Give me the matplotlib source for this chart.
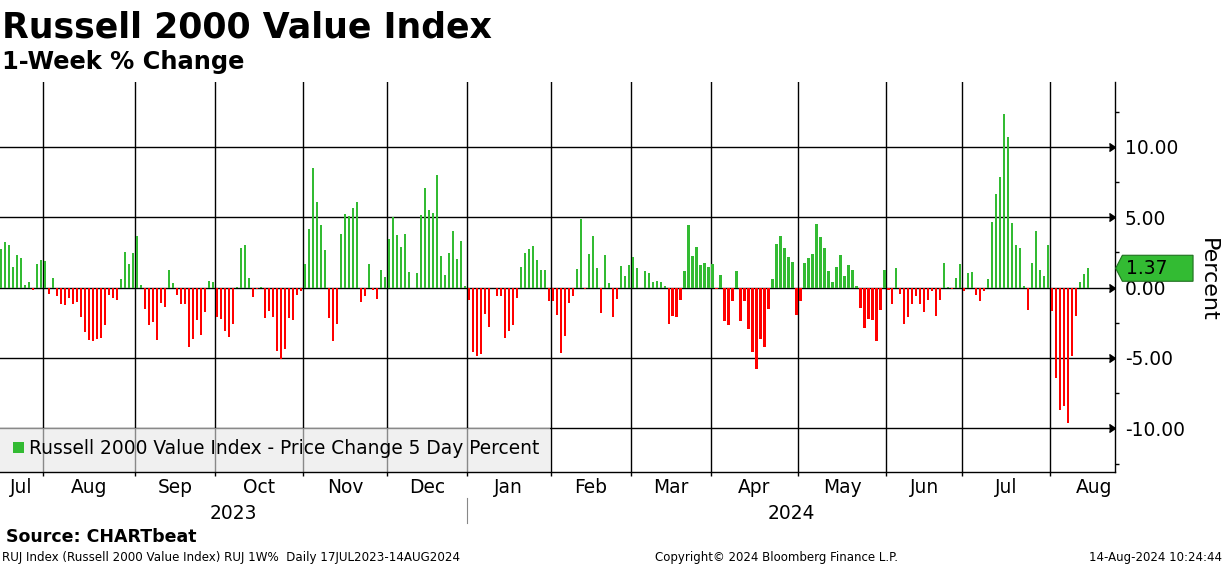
import pandas as pd
import matplotlib
matplotlib.use("Agg")
import matplotlib.pyplot as plt
from matplotlib import transforms
from matplotlib.patches import Rectangle, Polygon
from matplotlib.ticker import MultipleLocator, FormatStrFormatter

# trading calendar 17 Jul 2023 - 14 Aug 2024 (US market holidays removed)
market_holidays = ["2023-09-04", "2023-11-23", "2023-12-25", "2024-01-01", "2024-01-15",
                   "2024-02-19", "2024-03-29", "2024-05-27", "2024-06-19", "2024-07-04"]
dates = pd.bdate_range("2023-07-17", "2024-08-14", freq="C", holidays=market_holidays)

# 5 day price change, percent
pct_change = [
    2.72, 3.22, 3.00, 1.45, 2.30, 2.08, 0.17, 0.38, -0.17, 1.66, 1.94,
    1.87, -0.45, 0.66, -0.59, -1.16, -1.23, -0.73, -1.16, -1.02, -2.09, -3.15, -3.72,
    -3.79, -3.65, -3.58, -2.65, -0.52, -0.73, -0.88, 0.59, 2.51, 1.66, 2.44,
    3.65, 0.17, -1.52, -2.65, -2.44, -3.72, -1.09, -1.37, 1.23, 0.31, -0.52, -1.16,
    -1.16, -4.22, -3.65, -2.30, -3.36, -1.73, 0.45, 0.38,
    -2.09, -2.23, -3.08, -3.50, -2.58, 0.05, 2.80, 3.00, 0.66, -0.66, -0.07, 0.05,
    -2.16, -1.66, -2.09, -4.50, -5.07, -4.36, -2.16, -2.30, -0.52, -0.24,
    1.66, 4.15, 8.48, 6.07, 4.43, 2.65, -2.16, -3.79, -2.58, 3.79, 5.21, 5.07,
    5.64, 6.07, -1.02, -0.59, 1.66, -0.17, -0.80, 1.23, 0.73,
    3.44, 4.98, 3.72, 2.87, 3.79, 1.09, -0.05, 1.02, 5.14, 7.06, 5.50, 5.28,
    7.99, 2.23, 0.88, 2.44, 4.00, 2.01, 3.29, 0.14,
    -0.88, -4.57, -4.86, -4.72, -1.87, -2.80, -0.05, -0.59, -0.59, -3.58, -3.08,
    -2.65, -0.73, 1.45, 2.44, 2.72, 2.94, 1.94, 1.23, 1.23, -0.95,
    -0.95, -1.94, -4.64, -3.44, -1.09, -0.59, 1.30, 4.86, -0.10, 2.37, 3.65, 1.37,
    -1.80, 2.30, 0.31, -2.09, -0.80, 1.52, 0.80, 1.59,
    2.16, 1.37, -0.03, 1.16, 1.02, 0.38, 0.45, 0.38, 0.10, -2.58, -2.01, -2.09,
    -0.88, 1.16, 4.43, 2.23, 2.87, 1.59, 1.73, 1.45,
    1.66, -0.10, 0.88, -2.37, -2.65, -0.95, 1.16, -2.37, -0.95, -2.94, -4.57, -5.78,
    -3.65, -4.22, -1.52, 0.59, 3.08, 3.65, 2.80, 2.16, 1.80, -1.94,
    -0.95, 1.73, 2.08, 2.37, 4.50, 3.58, 2.80, 1.16, 0.38, 1.45, 2.30, 0.80,
    1.59, 1.23, 0.10, -1.45, -2.87, -2.23, -2.30, -3.79, -1.59, 1.23,
    -0.17, -1.16, 1.37, -0.45, -2.58, -2.09, -1.16, -0.59, -1.16, -1.73, -0.88, -0.24,
    -2.01, -0.88, 1.73, 0.03, -0.10, 0.66, 1.66,
    -0.24, 1.02, 1.09, -0.52, -0.95, -0.24, 0.59, 4.64, 6.64, 7.84, 12.32, 10.69,
    4.57, 3.00, 2.80, 0.10, -1.59, 1.73, 4.00, 1.23, 0.80, 3.00,
    -1.66, -6.42, -8.70, -8.41, -9.62, -4.86, -2.01, 0.38, 0.95, 1.37,
]

month_names = ["Jul", "Aug", "Sep", "Oct", "Nov", "Dec", "Jan",
               "Feb", "Mar", "Apr", "May", "Jun", "Jul", "Aug"]
year_labels = ["2023", "2024"]
series_label = "Russell 2000 Value Index - Price Change 5 Day Percent"

GREEN = "#33bb33"
RED = "#ff0000"
FS = 13.4
W, H = 1224, 566

plt.rcParams["font.family"] = "DejaVu Sans"
plt.rcParams["axes.unicode_minus"] = False


def fy(y_px):
    return 1 - y_px / H


def fx(x_px):
    return x_px / W


x = list(range(len(dates)))
colors = [GREEN if v >= 0 else RED for v in pct_change]

# first trading day of each month
month_start = [i for i in range(1, len(dates)) if dates[i].month != dates[i - 1].month]
boundaries = [i - 0.5 for i in month_start]

fig = plt.figure(figsize=(W / 100, H / 100), dpi=100)
ax = fig.add_axes([0, fy(472), 1115 / W, (472 - 82) / H])

xmin, xmax = -0.3, 278.7
ax.set_xlim(xmin, xmax)
ax.set_ylim(-13.1, 14.6)

for b in boundaries:
    ax.axvline(b, color="black", lw=1.0, zorder=1)
for yv in [-10, -5, 0, 5, 10]:
    ax.axhline(yv, color="black", lw=1.0, zorder=1)

ax.bar(x, pct_change, width=0.55, color=colors, zorder=2)

for s in ["top", "left"]:
    ax.spines[s].set_visible(False)
for s in ["bottom", "right"]:
    ax.spines[s].set_linewidth(1.0)

# y axis on the right
ax.yaxis.tick_right()
ax.yaxis.set_major_locator(MultipleLocator(5))
ax.yaxis.set_minor_locator(MultipleLocator(2.5))
ax.yaxis.set_major_formatter(FormatStrFormatter("%.2f"))
ax.tick_params(axis="y", which="major", length=0, pad=7, labelsize=FS)
ax.tick_params(axis="y", which="minor", length=3, width=1, direction="out")
ax.tick_params(axis="y", which="both", left=False)
edge = transforms.blended_transform_factory(ax.transAxes, ax.transData)
ax.plot([1.0] * 5, [-10, -5, 0, 5, 10], ls="none", marker=5, ms=6, color="black",
        transform=edge, clip_on=False, zorder=4)
fig.text(fx(1208), fy(280), "Percent", rotation=-90, ha="center", va="center", fontsize=16)

# x axis: ticks at month boundaries, labels placed between them
ax.set_xticks(boundaries)
ax.set_xticklabels([])
ax.tick_params(axis="x", which="major", length=3, width=1, direction="out")
xfig = transforms.blended_transform_factory(ax.transData, fig.transFigure)
edges = [xmin] + boundaries + [boundaries[-1] + 22]
for k, name in enumerate(month_names):
    centre = (edges[k] + edges[k + 1]) / 2
    fig.text(centre, fy(493), name, transform=xfig, ha="center", va="baseline", fontsize=FS)

jan_idx = boundaries[month_names.index("Jan") - 1]
fig.text((xmin + jan_idx) / 2, fy(519), year_labels[0], transform=xfig,
         ha="center", va="baseline", fontsize=FS)
fig.text((jan_idx + xmax) / 2, fy(519), year_labels[1], transform=xfig,
         ha="center", va="baseline", fontsize=FS)
fig.add_artist(plt.Line2D([jan_idx, jan_idx], [fy(498), fy(523)], transform=xfig,
                          color="#888888", lw=0.8))

# legend box (semi transparent, gridlines show through)
ax.add_patch(Rectangle((0, 0), 550 / 1115, (472 - 428) / 390, transform=ax.transAxes,
                       facecolor="#e6e6e6", edgecolor="none", alpha=0.6, zorder=1.5))
ax.add_patch(Rectangle((13 / 1115, (472 - 453) / 390), 11 / 1115, 11 / 390,
                       transform=ax.transAxes, facecolor=GREEN, edgecolor="none", zorder=3))
ax.text(29 / 1115, (472 - 449) / 390, series_label, transform=ax.transAxes,
        ha="left", va="center", fontsize=FS, zorder=3)

# last value tag
last = pct_change[-1]
h = 13 / 14.08
tag = Polygon([(1.0006, last), (1.0066, last + h), (1.07, last + h),
               (1.07, last - h), (1.0066, last - h)], closed=True, transform=edge,
              facecolor=GREEN, edgecolor="#1f6f1f", lw=0.8, clip_on=False, zorder=5)
ax.add_patch(tag)
ax.text(1.0099, last, f"{last:.2f}", transform=edge, ha="left", va="center",
        fontsize=FS, zorder=6, clip_on=False)

# titles and footer
fig.text(fx(2), fy(37), "Russell 2000 Value Index", fontsize=25, weight="bold", va="baseline")
fig.text(fx(2), fy(69), "1-Week % Change", fontsize=17.4, weight="bold", va="baseline")
fig.text(fx(6), fy(542), "Source: CHARTbeat", fontsize=12.5, weight="bold", va="baseline")
fig.text(fx(2), fy(561), "RUJ Index (Russell 2000 Value Index) RUJ 1W%  Daily 17JUL2023-14AUG2024",
         fontsize=8.6, va="baseline")
fig.text(fx(655), fy(561), "Copyright\u00a9 2024 Bloomberg Finance L.P.", fontsize=8.5, va="baseline")
fig.text(fx(1222), fy(561), "14-Aug-2024 10:24:44", fontsize=8.5, va="baseline", ha="right")

fig.savefig("out.png", dpi=100)
